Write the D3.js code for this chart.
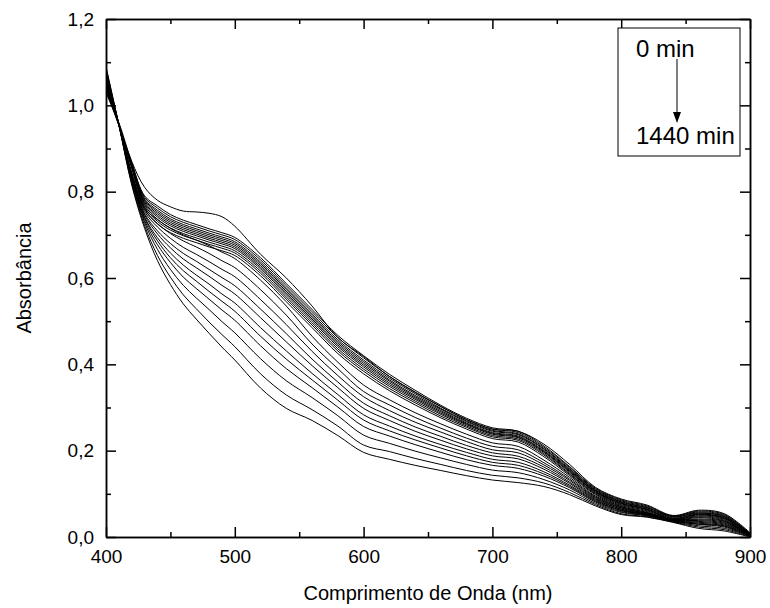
<!DOCTYPE html>
<html>
<head>
<meta charset="utf-8">
<script src="https://cdn.jsdelivr.net/npm/d3@7"></script>
<style>
body { margin: 0; background: #fff; }
svg { font-family: Arial, "Liberation Sans", sans-serif; }
.axis path, .axis line { stroke: #000; stroke-width: 1.5; }
.axis text { font-size: 19px; fill: #000; }
.curve { fill: none; stroke: #000; stroke-width: 1; }
</style>
</head>
<body>
<svg id="chart" width="770" height="608"></svg>
<script>
// absorbance spectra (nm / absorbance)
var wavelengths = [400,410,420,430,440,450,460,470,480,490,500,520,540,560,580,600,620,640,660,680,700,720,740,760,780,800,820,840,860,880,900];

// 0 min, the top curve
var t0 = [1.030,0.960,0.870,0.810,0.780,0.765,0.755,0.753,0.750,0.742,0.720,0.655,0.600,0.535,0.462,0.418,0.372,0.335,0.302,0.272,0.250,0.245,0.215,0.168,0.115,0.088,0.074,0.050,0.062,0.054,0.010];

// the dense bundle just below it
var b1  = [1.060,0.957,0.867,0.790,0.767,0.747,0.734,0.724,0.714,0.705,0.694,0.647,0.587,0.527,0.467,0.420,0.377,0.340,0.305,0.275,0.253,0.245,0.211,0.163,0.113,0.086,0.072,0.049,0.060,0.052,0.008];
var b2  = [1.057,0.957,0.865,0.787,0.762,0.742,0.729,0.719,0.709,0.700,0.689,0.642,0.582,0.522,0.462,0.415,0.372,0.336,0.302,0.272,0.250,0.242,0.208,0.161,0.111,0.084,0.070,0.048,0.058,0.050,0.008];
var b3  = [1.053,0.956,0.864,0.783,0.757,0.737,0.724,0.714,0.704,0.695,0.684,0.637,0.577,0.517,0.457,0.410,0.368,0.332,0.298,0.269,0.247,0.239,0.205,0.158,0.109,0.082,0.068,0.047,0.056,0.048,0.007];
var b4  = [1.051,0.956,0.862,0.781,0.753,0.733,0.720,0.710,0.700,0.691,0.680,0.633,0.573,0.513,0.453,0.406,0.364,0.328,0.296,0.267,0.245,0.237,0.203,0.156,0.108,0.081,0.067,0.046,0.055,0.047,0.007];
var b5  = [1.048,0.955,0.861,0.778,0.749,0.729,0.716,0.706,0.696,0.687,0.676,0.629,0.569,0.509,0.449,0.402,0.361,0.325,0.293,0.264,0.242,0.234,0.200,0.154,0.106,0.079,0.065,0.044,0.053,0.045,0.006];
var b6  = [1.045,0.955,0.860,0.775,0.745,0.725,0.712,0.702,0.692,0.683,0.672,0.625,0.565,0.505,0.445,0.398,0.357,0.322,0.290,0.262,0.240,0.232,0.198,0.152,0.105,0.078,0.064,0.043,0.052,0.044,0.006];
var b7  = [1.042,0.955,0.859,0.772,0.741,0.721,0.708,0.698,0.688,0.679,0.668,0.621,0.561,0.501,0.441,0.394,0.353,0.319,0.287,0.260,0.238,0.230,0.196,0.150,0.104,0.077,0.063,0.042,0.051,0.043,0.006];
var b8  = [1.039,0.954,0.857,0.769,0.736,0.716,0.703,0.693,0.683,0.674,0.663,0.616,0.556,0.496,0.436,0.389,0.349,0.315,0.284,0.257,0.235,0.227,0.193,0.147,0.102,0.075,0.061,0.041,0.049,0.041,0.005];
var b9  = [1.035,0.954,0.856,0.765,0.731,0.711,0.698,0.688,0.678,0.669,0.658,0.611,0.551,0.491,0.431,0.384,0.344,0.311,0.280,0.254,0.232,0.224,0.190,0.145,0.100,0.073,0.059,0.040,0.047,0.039,0.005];
var b10 = [1.031,0.953,0.854,0.761,0.725,0.705,0.692,0.682,0.672,0.663,0.652,0.605,0.545,0.485,0.425,0.378,0.339,0.306,0.276,0.250,0.228,0.220,0.186,0.142,0.098,0.071,0.057,0.039,0.045,0.037,0.004];

// the later spectra, fanning out downwards (1440 min is the lowest)
var l1  = [1.060,0.955,0.845,0.762,0.735,0.715,0.700,0.688,0.675,0.660,0.645,0.595,0.535,0.465,0.405,0.352,0.318,0.288,0.262,0.238,0.218,0.210,0.178,0.138,0.095,0.070,0.056,0.040,0.042,0.036,0.006];
var l2  = [1.063,0.955,0.842,0.758,0.726,0.703,0.686,0.672,0.657,0.640,0.624,0.573,0.514,0.447,0.390,0.337,0.306,0.277,0.252,0.229,0.210,0.202,0.172,0.134,0.093,0.068,0.055,0.040,0.040,0.034,0.005];
var l3  = [1.065,0.956,0.840,0.754,0.718,0.692,0.671,0.655,0.638,0.620,0.603,0.550,0.492,0.430,0.374,0.325,0.293,0.266,0.243,0.221,0.202,0.195,0.167,0.131,0.091,0.067,0.054,0.039,0.038,0.032,0.005];
var l4  = [1.068,0.955,0.837,0.749,0.709,0.680,0.657,0.639,0.620,0.601,0.582,0.528,0.471,0.412,0.359,0.310,0.281,0.255,0.233,0.212,0.195,0.187,0.162,0.127,0.089,0.065,0.053,0.039,0.036,0.030,0.004];
var l5  = [1.071,0.954,0.835,0.746,0.702,0.670,0.644,0.624,0.604,0.583,0.563,0.508,0.452,0.397,0.346,0.298,0.270,0.245,0.224,0.204,0.188,0.181,0.157,0.124,0.087,0.064,0.052,0.038,0.034,0.028,0.004];
var l6  = [1.073,0.955,0.832,0.741,0.693,0.658,0.630,0.607,0.586,0.563,0.542,0.485,0.431,0.379,0.330,0.283,0.257,0.234,0.214,0.196,0.180,0.173,0.151,0.120,0.085,0.062,0.052,0.038,0.032,0.026,0.003];
var l7  = [1.076,0.956,0.829,0.738,0.686,0.647,0.617,0.593,0.569,0.546,0.523,0.465,0.412,0.364,0.317,0.271,0.246,0.225,0.206,0.188,0.173,0.166,0.146,0.117,0.083,0.061,0.051,0.037,0.030,0.025,0.003];
var l8  = [1.078,0.955,0.827,0.733,0.677,0.636,0.602,0.576,0.551,0.526,0.502,0.443,0.390,0.346,0.301,0.256,0.234,0.214,0.196,0.179,0.166,0.159,0.141,0.114,0.081,0.059,0.050,0.037,0.029,0.023,0.002];
var l9  = [1.082,0.954,0.823,0.728,0.666,0.620,0.583,0.554,0.527,0.499,0.473,0.413,0.362,0.323,0.281,0.236,0.217,0.199,0.183,0.168,0.155,0.149,0.133,0.109,0.078,0.057,0.049,0.036,0.026,0.020,0.002];
var l10 = [1.086,0.955,0.819,0.721,0.652,0.602,0.561,0.529,0.498,0.469,0.441,0.378,0.329,0.295,0.257,0.213,0.198,0.182,0.168,0.154,0.143,0.137,0.125,0.103,0.075,0.054,0.047,0.035,0.023,0.017,0.001];
var l11 = [1.090,0.955,0.815,0.715,0.640,0.585,0.540,0.505,0.472,0.440,0.410,0.345,0.298,0.270,0.235,0.196,0.180,0.166,0.154,0.142,0.132,0.126,0.117,0.098,0.072,0.052,0.046,0.034,0.020,0.014,0.000];

var xTicks = [400,500,600,700,800,900];
var xMinor = [450,550,650,750,850];
var yTicks = [0,0.2,0.4,0.6,0.8,1.0,1.2];
var yMinor = [0.1,0.3,0.5,0.7,0.9,1.1];
var legendTop = "0 min", legendBottom = "1440 min";

var spectra = [t0,b1,b2,b3,b4,b5,b6,b7,b8,b9,b10,l1,l2,l3,l4,l5,l6,l7,l8,l9,l10,l11];

var svg = d3.select("#chart"),
    margin = {top: 19, right: 20, bottom: 71, left: 106},
    width = +svg.attr("width") - margin.left - margin.right,
    height = +svg.attr("height") - margin.top - margin.bottom;

var x = d3.scaleLinear().domain([400, 900]).range([0, width]),
    y = d3.scaleLinear().domain([0, 1.2]).range([height, 0]);

var g = svg.append("g")
    .attr("transform", "translate(" + margin.left + "," + margin.top + ")");

svg.append("defs").append("clipPath")
    .attr("id", "clip")
  .append("rect")
    .attr("width", width)
    .attr("height", height);

var line = d3.line()
    .curve(d3.curveCatmullRom.alpha(0.5))
    .x(function(d, i) { return x(wavelengths[i]); })
    .y(function(d) { return y(d); });

g.append("g")
    .attr("clip-path", "url(#clip)")
  .selectAll("path")
    .data(spectra)
  .enter().append("path")
    .attr("class", "curve")
    .attr("d", line);

var fmt = function(d) { return d3.format(".1f")(d).replace(".", ","); };

// inward ticks on all four sides, labels only bottom/left
g.append("g").attr("class", "axis")
    .attr("transform", "translate(0," + height + ")")
    .call(d3.axisBottom(x).tickValues(xTicks).tickSize(-10).tickSizeOuter(0).tickPadding(13));
g.append("g").attr("class", "axis")
    .attr("transform", "translate(0," + height + ")")
    .call(d3.axisBottom(x).tickValues(xMinor).tickSize(-5).tickSizeOuter(0).tickFormat(""));
g.append("g").attr("class", "axis")
    .call(d3.axisTop(x).tickValues(xTicks).tickSize(-10).tickSizeOuter(0).tickFormat(""));
g.append("g").attr("class", "axis")
    .call(d3.axisTop(x).tickValues(xMinor).tickSize(-5).tickSizeOuter(0).tickFormat(""));

g.append("g").attr("class", "axis")
    .call(d3.axisLeft(y).tickValues(yTicks).tickSize(-10).tickSizeOuter(0).tickPadding(12).tickFormat(fmt));
g.append("g").attr("class", "axis")
    .call(d3.axisLeft(y).tickValues(yMinor).tickSize(-5).tickSizeOuter(0).tickFormat(""));
g.append("g").attr("class", "axis")
    .attr("transform", "translate(" + width + ",0)")
    .call(d3.axisRight(y).tickValues(yTicks).tickSize(-10).tickSizeOuter(0).tickFormat(""));
g.append("g").attr("class", "axis")
    .attr("transform", "translate(" + width + ",0)")
    .call(d3.axisRight(y).tickValues(yMinor).tickSize(-5).tickSizeOuter(0).tickFormat(""));

// axis titles
svg.append("text")
    .attr("x", margin.left + width / 2)
    .attr("y", 600)
    .attr("text-anchor", "middle")
    .style("font-size", "20px")
    .text("Comprimento de Onda (nm)");

svg.append("text")
    .attr("transform", "translate(31," + (margin.top + height / 2) + ") rotate(-90)")
    .attr("text-anchor", "middle")
    .style("font-size", "20px")
    .text("Absorbância");

// legend box with the time arrow
var leg = svg.append("g").attr("transform", "translate(618,28)");
leg.append("rect")
    .attr("width", 122).attr("height", 128)
    .attr("fill", "#fff").attr("stroke", "#000").attr("stroke-width", 1);
leg.append("text").attr("x", 18).attr("y", 29)
    .style("font-size", "24px").text(legendTop);
leg.append("text").attr("x", 18).attr("y", 116)
    .style("font-size", "24px").text(legendBottom);
leg.append("line")
    .attr("x1", 59).attr("x2", 59).attr("y1", 31).attr("y2", 86)
    .attr("stroke", "#000").attr("stroke-width", 1);
leg.append("path")
    .attr("d", "M55,84L63,84L59,95Z")
    .attr("fill", "#000");
</script>
</body>
</html>
